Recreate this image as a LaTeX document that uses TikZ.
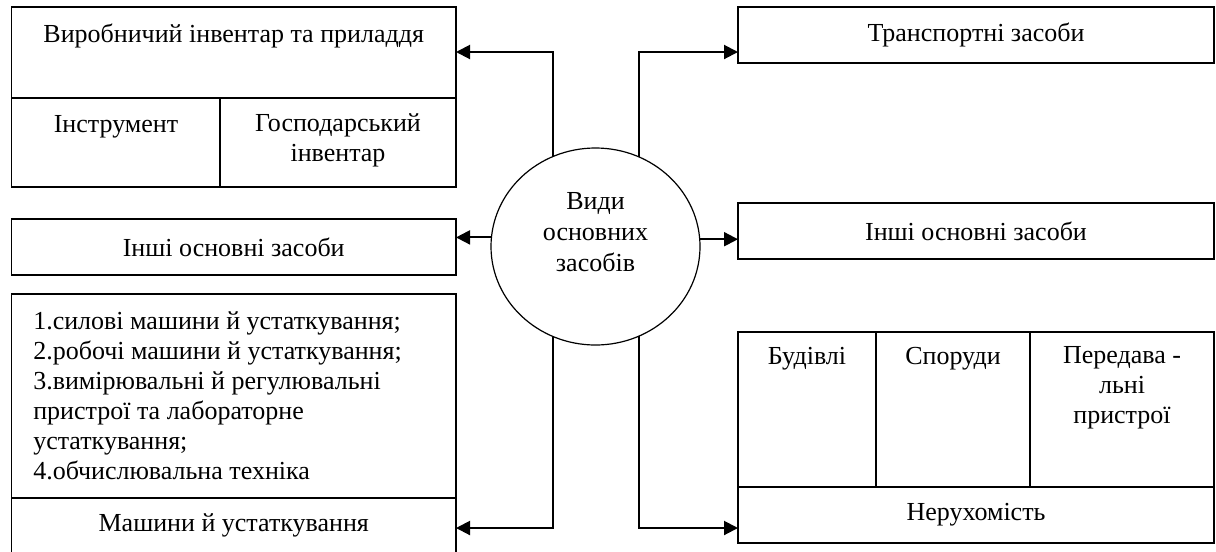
\documentclass[tikz,border=0pt]{standalone}
\usepackage{fontspec}
\setmainfont{Liberation Serif}
\usetikzlibrary{arrows.meta,shapes.geometric}
\begin{document}
\begin{tikzpicture}[x=0.75pt,y=-0.75pt,
  font=\fontsize{19.5pt}{22.5pt}\selectfont,
  box/.style={draw,line width=1.25pt,inner sep=0pt,outer sep=0pt},
  divider/.style={line width=1.25pt},
  conn/.style={line width=1.5pt,-{Triangle[length=10.5pt,width=10.5pt]}},
  lbl/.style={inner sep=0pt}]
\useasboundingbox (0,0) rectangle (1216,551);
% helper levels
\coordinate (yTop) at (0,52);
\coordinate (yBot) at (0,528);
% left top compound box
\node[box,anchor=north west,minimum width=444.5*0.75pt,minimum height=180*0.75pt] (prod) at (11.5,7) {};
\draw[divider] (11.5,98) -- (456,98);
\draw[divider] (220,98) -- (220,187);
\node[lbl] (prodt) at (233.75,36) {Виробничий інвентар та приладдя};
\node[lbl] (instr) at (116,127) {Інструмент};
\node[lbl,align=center] (gosp) at (338,140) {Господарський\\інвентар};
% right top box
\node[box,minimum width=476*0.75pt,minimum height=56*0.75pt] (trans) at (976,35) {Транспортні засоби};
% other assets
\node[box,minimum width=444.5*0.75pt,minimum height=56*0.75pt] (otherL) at (233.75,247) {Інші основні засоби};
\node[box,minimum width=476*0.75pt,minimum height=56*0.75pt] (otherR) at (976,231) {Інші основні засоби};
% machines box
\node[box,anchor=north west,minimum width=444.5*0.75pt,minimum height=259*0.75pt] (mach) at (11.5,294) {};
\draw[divider] (11.5,498) -- (456,498);
\node[lbl,anchor=north west,align=left] (machlist) at (33,311) {1.силові машини й устаткування;\\2.робочі машини й устаткування;\\3.вимірювальні й регулювальні\\пристрої та лабораторне\\устаткування;\\4.обчислювальна техніка};
\node[lbl] (macht) at (233.75,525) {Машини й устаткування};
% real estate box
\node[box,anchor=north west,minimum width=476*0.75pt,minimum height=211*0.75pt] (real) at (738,332) {};
\draw[divider] (738,487) -- (1214,487);
\draw[divider] (876,332) -- (876,487);
\draw[divider] (1030,332) -- (1030,487);
\node[lbl,anchor=base] (bud) at (807,364) {Будівлі};
\node[lbl,anchor=base] (spor) at (953,364) {Споруди};
\node[lbl,anchor=north,align=center] (pered) at (1122,346) {Передава -\\льні\\пристрої};
\node[lbl] (realt) at (976,515) {Нерухомість};
% central ellipse
\node[draw,ellipse,line width=0.9pt,inner sep=0pt,outer sep=0pt,minimum width=209*0.75pt,minimum height=197*0.75pt] (circ) at (595.5,246.5) {};
\node[lbl,align=center] (circt) at (595.5,232) {Види\\[1pt]основних\\[1pt]засобів};
% connectors
\draw[conn] (circ.115.4) |- (prod.east |- yTop);
\draw[conn] (circ.64.6) |- (trans.west |- yTop);
\draw[conn] (circ.175.4) -- (otherL.east |- circ.175.4);
\draw[conn] (circ.4.6) -- (otherR.west |- circ.4.6);
\draw[conn] (circ.-115.4) |- (mach.east |- yBot);
\draw[conn] (circ.-64.6) |- (real.west |- yBot);
\end{tikzpicture}
\end{document}
